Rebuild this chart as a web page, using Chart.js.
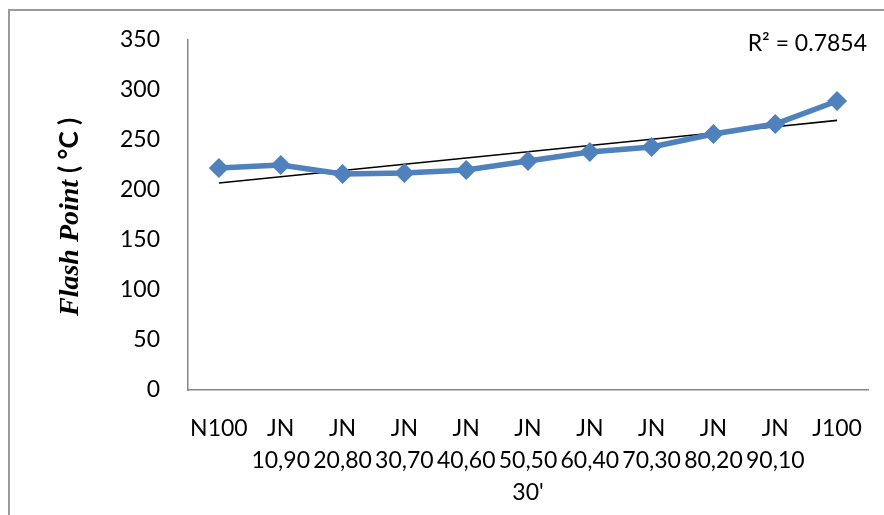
<!DOCTYPE html>
<html>
<head>
<meta charset="utf-8">
<script src="https://cdn.jsdelivr.net/npm/chart.js@4.4.1/dist/chart.umd.min.js"></script>
<style>
  html, body { margin: 0; padding: 0; background: #ffffff; }
  #wrap { position: relative; width: 884px; height: 515px; }
</style>
</head>
<body>
<div id="wrap"><canvas id="c" width="884" height="515"></canvas></div>
<script>
// ---- data ----
const categories = [
  ["N100"],
  ["JN", "10,90"],
  ["JN", "20,80"],
  ["JN", "30,70"],
  ["JN", "40,60"],
  ["JN", "50,50", "30'"],
  ["JN", "60,40"],
  ["JN", "70,30"],
  ["JN", "80,20"],
  ["JN", "90,10"],
  ["J100"]
];
const flashPoint = [222, 225, 216, 217, 220, 229, 238, 243, 256, 266, 289];
const yTicks = [0, 50, 100, 150, 200, 250, 300, 350];
const yTitleMain = "Flash Point ";
const yTitleUnit = "( °C )";
const rSquaredLabel = "R² = 0.7854";

// linear least-squares trendline through the series (as in the reference)
function linearTrend(values) {
  const n = values.length;
  let sx = 0, sy = 0, sxy = 0, sxx = 0;
  values.forEach((v, i) => { sx += i; sy += v; sxy += i * v; sxx += i * i; });
  const slope = (n * sxy - sx * sy) / (n * sxx - sx * sx);
  const icpt = (sy - slope * sx) / n;
  return values.map((_, i) => icpt + slope * i);
}
const trend = linearTrend(flashPoint);

const decorPlugin = {
  id: 'decor',
  beforeDraw(chart) {
    const ctx = chart.ctx;
    ctx.save();
    ctx.fillStyle = '#ffffff';
    ctx.fillRect(0, 0, chart.width, chart.height);
    ctx.strokeStyle = '#9a9a9a';
    ctx.lineWidth = 2;
    ctx.beginPath();
    ctx.moveTo(9, chart.height + 5);
    ctx.lineTo(9, 10);
    ctx.lineTo(chart.width + 5, 10);
    ctx.stroke();
    ctx.restore();
  },
  afterDraw(chart) {
    const ctx = chart.ctx;
    const area = chart.chartArea;
    // y-axis title, mixed fonts
    ctx.save();
    const fMain = 'italic bold 28px "Liberation Serif", "Times New Roman", serif';
    const fUnit = 'bold 26px Lato, "Noto Sans", sans-serif';
    ctx.font = fMain;
    const w1 = ctx.measureText(yTitleMain).width;
    ctx.font = fUnit;
    const w2 = ctx.measureText(yTitleUnit).width;
    const cy = (area.top + area.bottom) / 2 + 2;
    ctx.translate(78, cy);
    ctx.rotate(-Math.PI / 2);
    ctx.fillStyle = '#000000';
    ctx.textBaseline = 'alphabetic';
    ctx.textAlign = 'left';
    const start = -(w1 + w2) / 2;
    ctx.font = fMain;
    ctx.fillText(yTitleMain, start, 0);
    ctx.font = fUnit;
    ctx.fillText(yTitleUnit, start + w1, 0);
    ctx.restore();
    // R² label
    ctx.save();
    ctx.font = '23px Lato, "Noto Sans", sans-serif';
    ctx.fillStyle = '#000000';
    ctx.textAlign = 'right';
    ctx.textBaseline = 'middle';
    ctx.fillText(rSquaredLabel, area.right - 1, 44);
    ctx.restore();
  }
};

new Chart(document.getElementById('c'), {
  type: 'line',
  data: {
    labels: categories,
    datasets: [
      {
        label: 'Trend',
        data: trend,
        borderColor: '#000000',
        borderWidth: 1.6,
        pointRadius: 0,
        fill: false,
        tension: 0,
        order: 2
      },
      {
        label: 'Flash Point',
        data: flashPoint,
        borderColor: '#4F81BD',
        backgroundColor: '#4F81BD',
        borderWidth: 5.5,
        pointStyle: 'rectRot',
        pointRadius: 10,
        pointBorderWidth: 0,
        pointBackgroundColor: '#4F81BD',
        fill: false,
        tension: 0,
        order: 1
      }
    ]
  },
  options: {
    responsive: false,
    animation: false,
    devicePixelRatio: 1,
    layout: { padding: { top: 40, right: 16, left: 0, bottom: 0 } },
    plugins: {
      legend: { display: false },
      tooltip: { enabled: false },
      title: { display: false }
    },
    scales: {
      x: {
        type: 'category',
        offset: true,
        grid: { display: false },
        border: { display: true, color: '#868686', width: 1.5 },
        ticks: {
          color: '#000000',
          font: { family: 'Lato, "Noto Sans", sans-serif', size: 23, lineHeight: 1.4 },
          padding: 14,
          maxRotation: 0,
          autoSkip: false
        },
        afterFit(scale) { scale.height = 125; }
      },
      y: {
        min: 0,
        max: 350,
        afterBuildTicks(scale) { scale.ticks = yTicks.map(v => ({ value: v })); },
        grid: { display: false },
        border: { display: true, color: '#868686', width: 1.5 },
        ticks: {
          color: '#000000',
          font: { family: 'Lato, "Noto Sans", sans-serif', size: 23 },
          padding: 20
        },
        afterFit(scale) { scale.width = 188; }
      }
    }
  },
  plugins: [decorPlugin]
});
</script>
</body>
</html>
